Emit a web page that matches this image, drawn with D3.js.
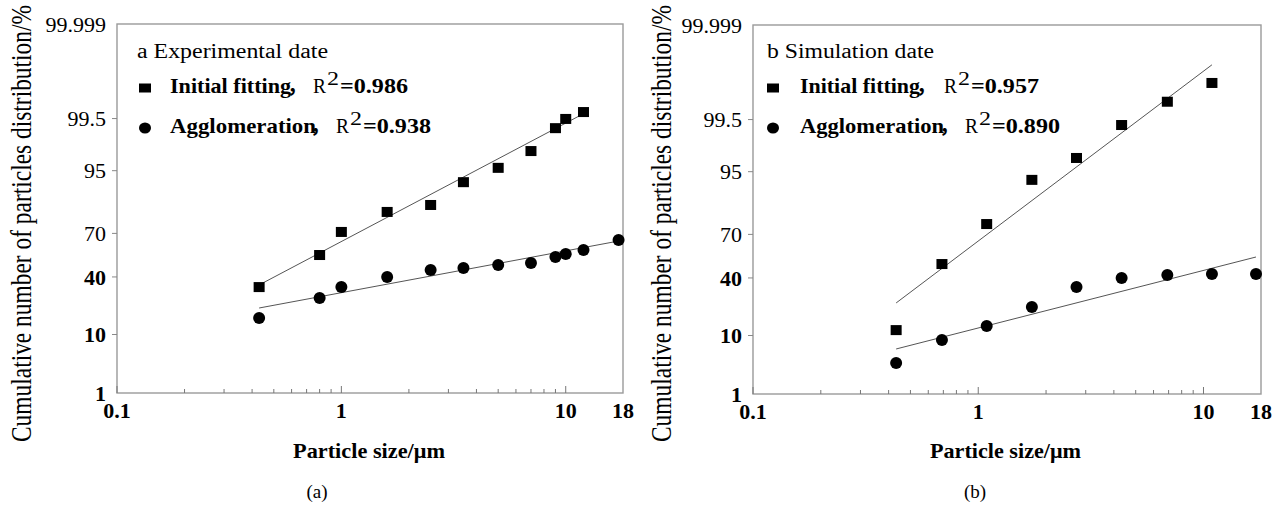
<!DOCTYPE html>
<html>
<head>
<meta charset="utf-8">
<script src="https://cdn.jsdelivr.net/npm/d3@7"></script>
<style>
  body { margin: 0; background: #fff; }
  svg text { font-family: "Liberation Serif", "DejaVu Serif", serif; fill: #000; }
</style>
</head>
<body>
<script>
//axis ticks
var tickX = [0.1, 1, 10, 18];
var tickY = [1, 10, 40, 70, 95, 99.5, 99.999];

//text
var panelTitles = ["a Experimental date", "b Simulation date"];
var seriesNames = ["Initial fitting", "Agglomeration"];
var sep = "\uFF0C";
var r2Initial = ["0.986", "0.957"];
var r2Agglo = ["0.938", "0.890"];
var captions = ["(a)", "(b)"];
var xTitle = "Particle size/\u03BCm";
var yTitle = "Cumulative number of particles distribution/%";

//panel a, experimental data (size in um, cumulative %)
var sizeA_init = [0.43, 0.8, 1.0, 1.6, 2.5, 3.5, 5.0, 7.0, 9.0, 10, 12];
var cumA_init = [33.2, 55.5, 70.9, 81.8, 84.9, 92.5, 95.5, 97.7, 99.19, 99.49, 99.645];
var sizeA_agg = [0.43, 0.8, 1.0, 1.6, 2.5, 3.5, 5.0, 7.0, 9.0, 10, 12, 17.2];
var cumA_agg = [16.2, 26.4, 33.2, 39.9, 44.8, 46.3, 48.4, 49.8, 54.1, 56.2, 59.0, 65.8];
//fitted lines (end points)
var fitA_initX = [0.43, 12.15], fitA_initY = [34.6, 99.625];
var fitA_aggX = [0.43, 17.2], fitA_aggY = [20.95, 65.1];

//panel b, simulation data
var sizeB_init = [0.432, 0.69, 1.09, 1.73, 2.73, 4.33, 6.91, 10.9];
var cumB_init = [11.8, 49.8, 76.1, 93.3, 97.06, 99.34, 99.81, 99.938];
var sizeB_agg = [0.432, 0.69, 1.09, 1.73, 2.73, 4.33, 6.91, 10.9, 17.1];
var cumB_agg = [3.82, 8.68, 13.3, 22.0, 33.9, 40.0, 42.1, 42.8, 42.8];
var fitB_initX = [0.432, 10.9], fitB_initY = [24.2, 99.981];
var fitB_aggX = [0.432, 17.1], fitB_aggY = [6.4, 54.8];

//inverse normal cdf (Acklam) for the probability axis
function probit(p){
    var a = [-39.69683028665376, 220.9460984245205, -275.9285104469687, 138.3577518672690, -30.66479806614716, 2.506628277459239],
        b = [-54.47609879822406, 161.5858368580409, -155.6989798598866, 66.80131188771972, -13.28068155288572],
        c = [-0.007784894002430293, -0.3223964580411365, -2.400758277161838, -2.549732539343734, 4.374664141464968, 2.938163982698783],
        d = [0.007784695709041462, 0.3224671290700398, 2.445134137142996, 3.754408661907416];
    var pl = 0.02425, q, r;
    if (p < pl){
        q = Math.sqrt(-2 * Math.log(p));
        return (((((c[0]*q+c[1])*q+c[2])*q+c[3])*q+c[4])*q+c[5]) / ((((d[0]*q+d[1])*q+d[2])*q+d[3])*q+1);
    }
    if (p <= 1 - pl){
        q = p - 0.5; r = q * q;
        return (((((a[0]*r+a[1])*r+a[2])*r+a[3])*r+a[4])*r+a[5])*q / (((((b[0]*r+b[1])*r+b[2])*r+b[3])*r+b[4])*r+1);
    }
    q = Math.sqrt(-2 * Math.log(1 - p));
    return -(((((c[0]*q+c[1])*q+c[2])*q+c[3])*q+c[4])*q+c[5]) / ((((d[0]*q+d[1])*q+d[2])*q+d[3])*q+1);
}

var width = 1281, height = 508;

var svg = d3.select("body")
    .append("svg")
    .attr("width", width)
    .attr("height", height);

svg.append("rect").attr("width", width).attr("height", height).attr("fill", "#fff");

//layout of the two panels
var panels = [
    {left: 117, right: 623, top: 24, bottom: 393, titleX: 31, xTitleX: 293, xTitleW: 152, capX: 317,
     headX: 137, headW: 191, markX: 145, textX: 170, nameW: [121, 146], sepX: [287, 310], rX: [313, 336],
     init: [sizeA_init, cumA_init], agg: [sizeA_agg, cumA_agg],
     fitInit: [fitA_initX, fitA_initY], fitAgg: [fitA_aggX, fitA_aggY]},
    {left: 753, right: 1261, top: 25, bottom: 394, titleX: 671, xTitleX: 930, xTitleW: 151, capX: 975,
     headX: 767, headW: 167, markX: 773, textX: 800, nameW: [120, 144], sepX: [916, 939], rX: [944, 965],
     init: [sizeB_init, cumB_init], agg: [sizeB_agg, cumB_agg],
     fitInit: [fitB_initX, fitB_initY], fitAgg: [fitB_aggX, fitB_aggY]}
];

//text helper, widths (glyphs are stretched)
function addText(g, x, y, str, size, weight, w, anchor){
    var t = g.append("text")
        .attr("x", x)
        .attr("y", y)
        .attr("font-size", size)
        .attr("font-weight", weight || "normal")
        .attr("text-anchor", anchor || "start")
        .text(str);
    if (w) t.attr("textLength", w).attr("lengthAdjust", "spacingAndGlyphs");
    return t;
}

panels.forEach(function(p, i){
    var g = svg.append("g").attr("class", "panel");

    var x = d3.scaleLog()
        .domain([tickX[0], tickX[tickX.length - 1]])
        .range([p.left, p.right]);

    var yLin = d3.scaleLinear()
        .domain([probit(tickY[0] / 100), probit(tickY[tickY.length - 1] / 100)])
        .range([p.bottom, p.top]);
    var y = function(v){ return yLin(probit(v / 100)); };

    //frame
    g.append("rect")
        .attr("x", p.left)
        .attr("y", p.top)
        .attr("width", p.right - p.left)
        .attr("height", p.bottom - p.top)
        .attr("fill", "none")
        .attr("stroke", "#9a9a9a")
        .attr("stroke-width", 1.4);

    //x ticks, pointing inward
    var isMajor = function(d){ return Math.abs(Math.log10(d) - Math.round(Math.log10(d))) < 1e-9; };
    g.selectAll(".xTick")
        .data(x.ticks())
        .enter()
        .append("line")
        .attr("class", "xTick")
        .attr("x1", function(d){ return x(d); })
        .attr("x2", function(d){ return x(d); })
        .attr("y1", p.bottom)
        .attr("y2", function(d){ return p.bottom - (isMajor(d) ? 7 : 4); })
        .attr("stroke", "#777")
        .attr("stroke-width", 1);

    g.selectAll(".xLabel")
        .data(tickX)
        .enter()
        .append("text")
        .attr("class", "xLabel")
        .attr("x", function(d){ return x(d); })
        .attr("y", p.bottom + 25)
        .attr("text-anchor", "middle")
        .attr("font-size", 22)
        .attr("font-weight", "bold")
        .text(function(d){ return d; });

    //y ticks, pointing outward
    g.selectAll(".yTick")
        .data(tickY.slice(1, -1))
        .enter()
        .append("line")
        .attr("class", "yTick")
        .attr("x1", p.left - 5)
        .attr("x2", p.left)
        .attr("y1", function(d){ return y(d); })
        .attr("y2", function(d){ return y(d); })
        .attr("stroke", "#888")
        .attr("stroke-width", 1);

    g.selectAll(".yLabel")
        .data(tickY)
        .enter()
        .append("text")
        .attr("class", "yLabel")
        .attr("x", p.left - 11)
        .attr("y", function(d){ return y(d); })
        .attr("dy", "0.35em")
        .attr("text-anchor", "end")
        .attr("font-size", 22)
        .attr("font-weight", function(d){ return d < 50 ? "bold" : "normal"; })
        .text(function(d){ return d; });

    //fitted lines
    var line = d3.line()
        .x(function(d){ return x(d[0]); })
        .y(function(d){ return y(d[1]); });

    [p.fitInit, p.fitAgg].forEach(function(f){
        g.append("path")
            .datum(d3.zip(f[0], f[1]))
            .attr("d", line)
            .attr("fill", "none")
            .attr("stroke", "#555")
            .attr("stroke-width", 1);
    });

    //initial fitting points
    g.selectAll(".sq")
        .data(d3.zip(p.init[0], p.init[1]))
        .enter()
        .append("rect")
        .attr("class", "sq")
        .attr("x", function(d){ return x(d[0]) - 5.5; })
        .attr("y", function(d){ return y(d[1]) - 5; })
        .attr("width", 11)
        .attr("height", 10)
        .attr("fill", "#000");

    //agglomeration points
    g.selectAll(".dot")
        .data(d3.zip(p.agg[0], p.agg[1]))
        .enter()
        .append("circle")
        .attr("class", "dot")
        .attr("cx", function(d){ return x(d[0]); })
        .attr("cy", function(d){ return y(d[1]); })
        .attr("r", 6)
        .attr("fill", "#000");

    //legend
    addText(g, p.headX, 58, panelTitles[i], 20, "normal", p.headW);

    g.append("rect")
        .attr("x", p.markX - 6).attr("y", 83.5)
        .attr("width", 12).attr("height", 9)
        .attr("fill", "#000");
    g.append("ellipse")
        .attr("cx", p.markX).attr("cy", 128)
        .attr("rx", 6).attr("ry", 5.5)
        .attr("fill", "#000");

    var rows = [[93, r2Initial[i]], [133, r2Agglo[i]]];
    rows.forEach(function(r, k){
        var by = r[0], rx = p.rX[k];
        addText(g, p.textX, by, seriesNames[k], 21, "bold", p.nameW[k]);
        addText(g, p.sepX[k], by, sep, 20, "bold")
            .style("font-family", "'Noto Sans CJK SC', sans-serif");
        addText(g, rx, by, "R", 20, "normal", 13);
        addText(g, rx + 14, by - 8, "2", 18, "normal", 12);
        addText(g, rx + 27, by, "=" + r[1], 21, "bold", 68);
    });

    //axis titles
    addText(g, p.xTitleX, 458, xTitle, 22, "bold", p.xTitleW);

    g.append("text")
        .attr("transform", "translate(" + p.titleX + ",442) rotate(-90) scale(1,1.3)")
        .attr("font-size", 22)
        .attr("textLength", 437)
        .attr("lengthAdjust", "spacingAndGlyphs")
        .text(yTitle);

    addText(g, p.capX, 498, captions[i], 19, "normal", null, "middle");
});
</script>
</body>
</html>
